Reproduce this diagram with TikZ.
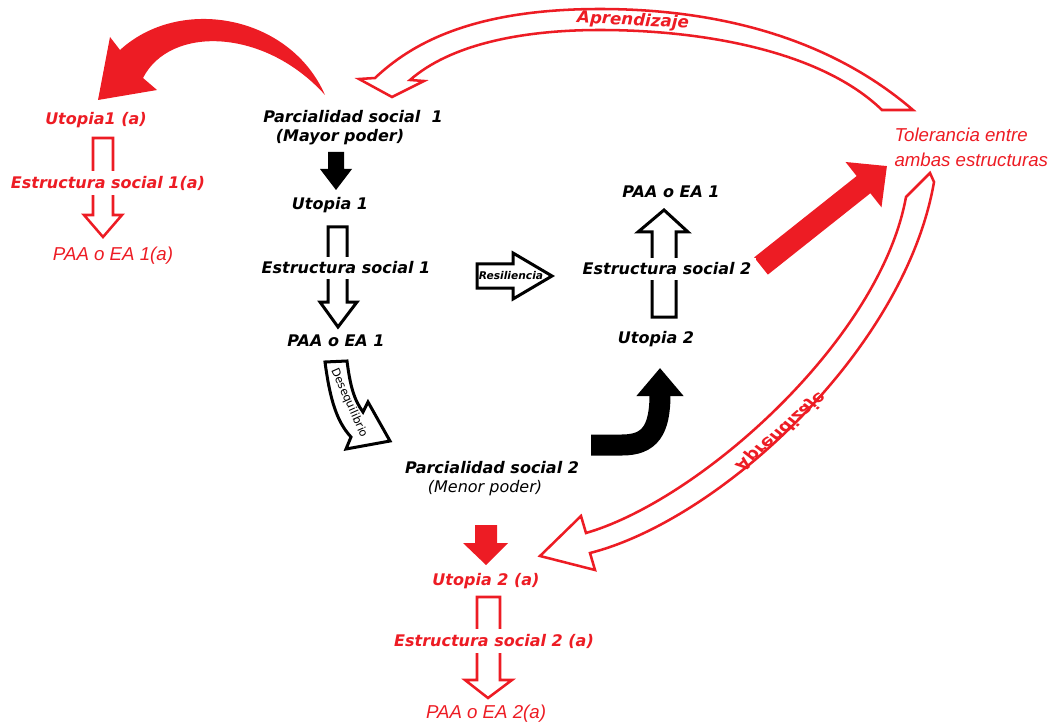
\documentclass[tikz,border=0pt]{standalone}
\usepackage{graphicx}
\usepackage{fontspec}
\setmainfont{DejaVu Sans}
\newfontfamily\arialfont{Liberation Sans}
\usetikzlibrary{arrows.meta}
\definecolor{paintred}{RGB}{237,28,36}

\tikzset{every picture/.style={line width=0.75pt}}
\tikzset{
  blktxt/.style={font=\bfseries\itshape\fontsize{12}{14}\selectfont, inner sep=0.75pt},
  redtxt/.style={blktxt, text=paintred},
  thinred/.style={font=\arialfont\itshape\fontsize{14}{16}\selectfont, text=paintred, inner sep=0.75pt},
  cutbox/.style={fill=white, inner sep=3.5pt},
  hollowblk/.style={draw=black, line width=2.25pt, fill=white},
  hollowred/.style={draw=paintred, line width=1.9pt, fill=white},
  bandtxt/.style={font=\bfseries\itshape\fontsize{12.5}{14}\selectfont, text=paintred, inner sep=0pt},
}

\begin{document}
\begin{tikzpicture}[x=0.75pt,y=0.75pt,yscale=-1,xscale=1]
\path[use as bounding box] (0,0) rectangle (1056,727);

%Shape: Curved Arrow [red, to the left]
\fill[paintred] (325,95) .. controls (290,15) and (180,-5) .. (120,50) -- (110,37) -- (98,100) -- (157,90) -- (143,78) .. controls (170,25) and (265,28) .. (325,95) -- cycle;

%Shape: Arc Arrow [top]
\draw[hollowred] (913,110) .. controls (820,30) and (700,9) .. (600,9) .. controls (470,9) and (410,45) .. (375,78) -- (359,79) -- (392,97) -- (424,81) -- (410,80) .. controls (450,45) and (520,30) .. (600,30) .. controls (700,30) and (820,50) .. (882,110) -- cycle;
%Shape: Arc Arrow [right]
\draw[hollowred] (906,197) -- (930,173) -- (934,182) .. controls (905,350) and (720,520) .. (590,553) -- (595,570) -- (540,556) -- (581,516) -- (586,533) .. controls (700,500) and (880,340) .. (906,197) -- cycle;

%Shape: Arrow [black, filled]
\fill (328,152) -- (344,152) -- (344,169) -- (352,169) -- (336,190) -- (320,169) -- (328,169) -- cycle;
%Shape: Arrow [left column]
\draw[hollowblk] (328,227) -- (347,227) -- (347,302) -- (357,302) -- (338,327) -- (320,302) -- (328,302) -- cycle;
%Shape: Arrow [resiliencia]
\draw[hollowblk] (477,264) -- (513,264) -- (513,253) -- (552,276) -- (513,299) -- (513,288) -- (477,288) -- cycle;
%Shape: Arrow [right column]
\draw[hollowblk] (652,317) -- (676,317) -- (676,232) -- (688,232) -- (664,210) -- (638,232) -- (652,232) -- cycle;
%Shape: Curved Arrow [desequilibrio]
\draw[hollowblk] (325,362) -- (347,361) .. controls (350,385) and (354,400) .. (363,412) -- (368,402) -- (390,441) -- (346,449) -- (351,437) .. controls (337,422) and (330,400) .. (325,362) -- cycle;

%Curve Lines [black, thick]
\draw[line width=15.75pt, -{Triangle[length=21pt,width=34pt]}] (591,445) -- (622,445) .. controls (650,445) and (660,430) .. (660,368);
%Straight Lines [red, thick]
\draw[paintred, line width=16.5pt, -{Triangle[length=22.5pt,width=42pt]}] (761,266) -- (887,166);

%Shape: Arrow [red, filled]
\fill[paintred] (475,525) -- (497,525) -- (497,543) -- (508,543) -- (486,565) -- (463,543) -- (475,543) -- cycle;
%Shape: Arrow [red, bottom]
\draw[hollowred] (477,597) -- (500,597) -- (500,680) -- (512,680) -- (488,698) -- (465,680) -- (477,680) -- cycle;
%Shape: Arrow [red, left]
\draw[hollowred] (93,138) -- (113,138) -- (113,215) -- (122,215) -- (103,237) -- (84,215) -- (93,215) -- cycle;

% Text Node
\node[blktxt] (pa1) at (353,117) {Parcialidad social \ 1};
\node[blktxt] (mp1) at (340,137) {(Mayor poder)};
\node[blktxt] (ut1) at (330,205) {Utopia 1};
\node[blktxt, cutbox] (es1) at (346,268) {Estructura social 1};
\node[blktxt] (paa1) at (336,341) {PAA o EA 1};
% Text Node
\node[blktxt] (paa1b) at (671,192) {PAA o EA 1};
\node[blktxt, cutbox] (es2) at (667,269) {Estructura social 2};
\node[blktxt] (ut2) at (656,339) {Utopia 2};
% Text Node
\node[blktxt] (pa2) at (492,468) {Parcialidad social 2};
\node[font=\itshape\fontsize{12}{14}\selectfont, inner sep=0.75pt] (mp2) at (485,488) {(Menor poder)};
% Text Node
\node[font=\bfseries\itshape\fontsize{8}{9}\selectfont, inner sep=0pt] (res) at (511,276) {Resiliencia};
\node[font=\fontsize{8.5}{9}\selectfont, inner sep=0pt, rotate=-66] (deseq) at (349,403) {Desequilibrio};
% Text Node
\node[redtxt] (ut1a) at (96,120) {Utopia1 (a)};
\node[redtxt, cutbox] (es1a) at (108,183) {Estructura social 1(a)};
\node[thinred] (paa1a) at (113,256) {PAA o EA 1(a)};
% Text Node
\node[redtxt] (ut2a) at (486,581) {Utopia 2 (a)};
\node[redtxt, cutbox] (es2a) at (494,641) {Estructura social 2 (a)};
\node[thinred] (paa2a) at (486,714) {PAA o EA 2(a)};
% Text Node
\node[thinred, align=left, anchor=west, font=\arialfont\itshape\fontsize{14}{18.5}\selectfont] (tol) at (893,147) {Tolerancia entre\\ambas estructuras};
% Text Node
\node[bandtxt, rotate=-3] (apr1) at (633,21) {Aprendizaje};
\node[bandtxt, rotate=41] (apr2) at (781,431) {\scalebox{1}[-1]{Aprendizaje}};

\end{tikzpicture}
\end{document}
